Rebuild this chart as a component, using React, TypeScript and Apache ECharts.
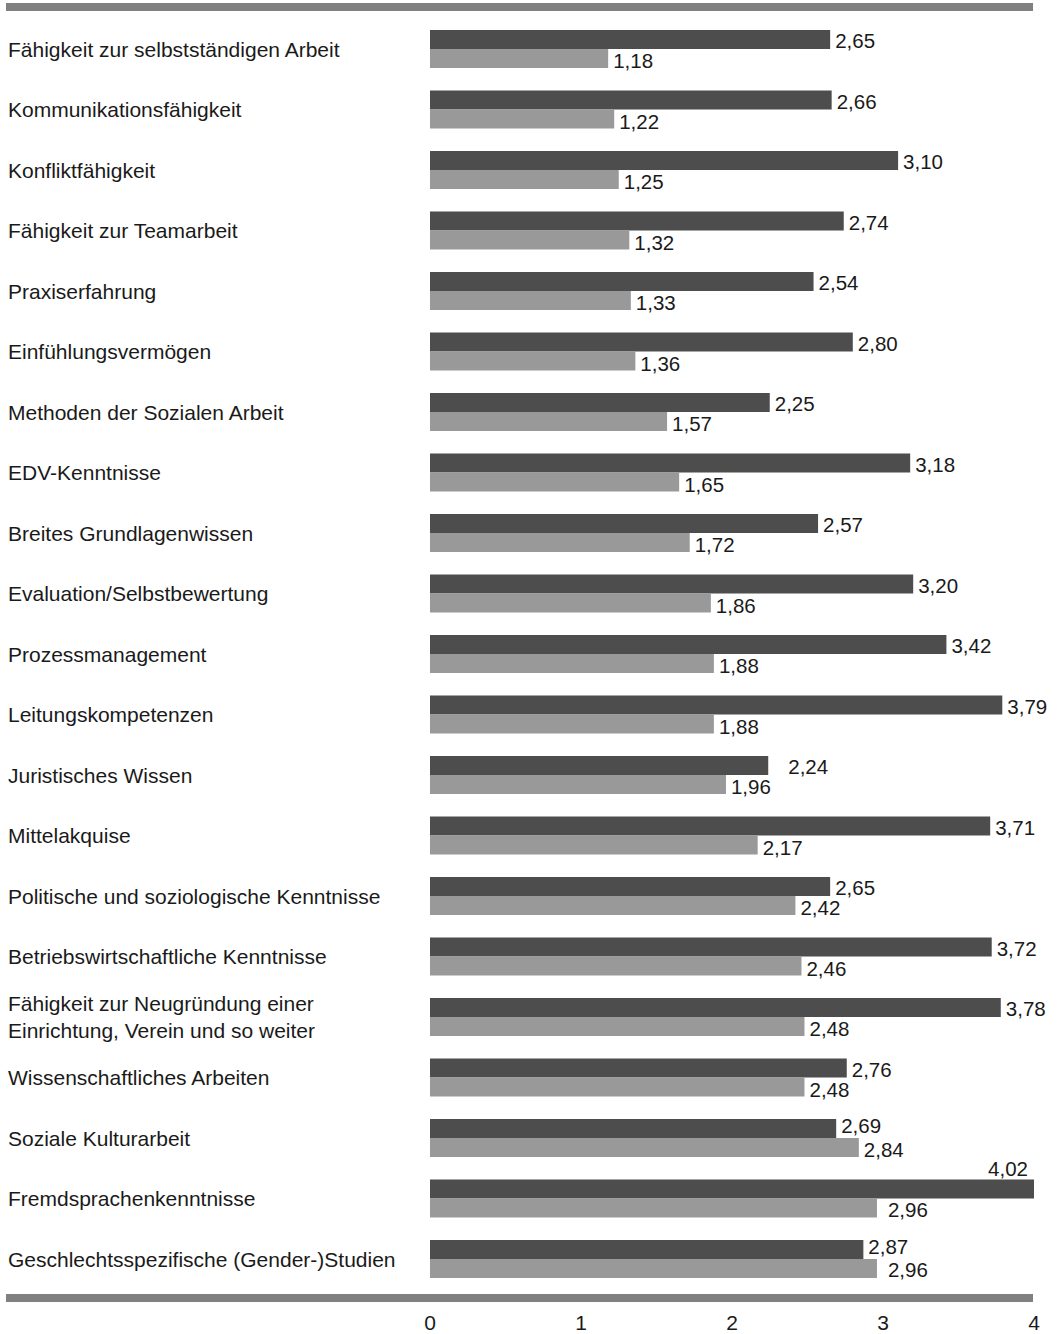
import React, { useEffect, useRef } from "react";
import * as echarts from "echarts";

const categories = [
  "Fähigkeit zur selbstständigen Arbeit",
  "Kommunikationsfähigkeit",
  "Konfliktfähigkeit",
  "Fähigkeit zur Teamarbeit",
  "Praxiserfahrung",
  "Einfühlungsvermögen",
  "Methoden der Sozialen Arbeit",
  "EDV-Kenntnisse",
  "Breites Grundlagenwissen",
  "Evaluation/Selbstbewertung",
  "Prozessmanagement",
  "Leitungskompetenzen",
  "Juristisches Wissen",
  "Mittelakquise",
  "Politische und soziologische Kenntnisse",
  "Betriebswirtschaftliche Kenntnisse",
  "Fähigkeit zur Neugründung einer\nEinrichtung, Verein und so weiter",
  "Wissenschaftliches Arbeiten",
  "Soziale Kulturarbeit",
  "Fremdsprachenkenntnisse",
  "Geschlechtsspezifische (Gender-)Studien",
];

const darkValues = [2.65, 2.66, 3.1, 2.74, 2.54, 2.8, 2.25, 3.18, 2.57, 3.2, 3.42, 3.79, 2.24, 3.71, 2.65, 3.72, 3.78, 2.76, 2.69, 4.02, 2.87];
const lightValues = [1.18, 1.22, 1.25, 1.32, 1.33, 1.36, 1.57, 1.65, 1.72, 1.86, 1.88, 1.88, 1.96, 2.17, 2.42, 2.46, 2.48, 2.48, 2.84, 2.96, 2.96];

const xTicks = [0, 1, 2, 3, 4];

const FONT = "'Liberation Sans', Arial, sans-serif";
const fmt = (v: number) => v.toFixed(2).replace(".", ",");

export default function App() {
  const ref = useRef<HTMLDivElement>(null);
  useEffect(() => {
    if (!ref.current) return;
    const chart = echarts.init(ref.current, undefined, { renderer: "svg" });

    const labelBase = {
      show: true,
      position: "right",
      distance: 5,
      fontSize: 20.5,
      fontFamily: FONT,
      color: "#1a1a1a",
      formatter: (p: any) => fmt(p.value),
    };

    const darkData = darkValues.map((v, i) => {
      if (i === 12) {
        return { value: v, label: { distance: 20 } };
      }
      if (i === 19) {
        return {
          value: v,
          label: { position: ["100%", -11], align: "right", verticalAlign: "middle", offset: [-6, 0] },
        };
      }
      if (i === 20 || i === 18) {
        return { value: v, label: { offset: [0, -3] } };
      }
      return v;
    });
    const lightData = lightValues.map((v, i) => {
      if (i === 19 || i === 20) {
        return { value: v, label: { distance: 11, offset: [0, 1] } };
      }
      return v;
    });

    chart.setOption({
      animation: false,
      backgroundColor: "#ffffff",
      textStyle: { fontFamily: FONT },
      grid: { left: 430, right: 30, top: 18.75, bottom: 44.75, containLabel: false },
      xAxis: {
        type: "value",
        min: xTicks[0],
        max: xTicks[xTicks.length - 1],
        interval: 1,
        splitLine: { show: false },
        axisLine: { show: false },
        axisTick: { show: false },
        axisLabel: {
          fontSize: 21,
          fontFamily: FONT,
          color: "#1a1a1a",
          margin: 23,
          formatter: (v: number) => String(v),
        },
      },
      yAxis: {
        type: "category",
        data: categories,
        inverse: true,
        axisLine: { show: false },
        axisTick: { show: false },
        axisLabel: {
          interval: 0,
          align: "left",
          margin: 422,
          fontSize: 21,
          fontFamily: FONT,
          color: "#1a1a1a",
          lineHeight: 27,
        },
      },
      series: [
        {
          type: "bar",
          data: darkData,
          barWidth: 19,
          barGap: "0%",
          itemStyle: { color: "#4d4d4d" },
          label: { ...labelBase, offset: [0, 1] },
        },
        {
          type: "bar",
          data: lightData,
          barWidth: 19,
          barGap: "0%",
          itemStyle: { color: "#999999" },
          label: { ...labelBase, offset: [0, 2] },
        },
      ],
      graphic: [
        { type: "rect", left: 6, top: 3, shape: { width: 1027, height: 8 }, style: { fill: "#808080" } },
        { type: "rect", left: 6, top: 1294, shape: { width: 1027, height: 8 }, style: { fill: "#808080" } },
      ],
    });
    return () => chart.dispose();
  }, []);
  return (
    <div
      ref={ref}
      style={{ position: "absolute", left: 0, top: 0, width: 1064, height: 1334 }}
    />
  );
}
